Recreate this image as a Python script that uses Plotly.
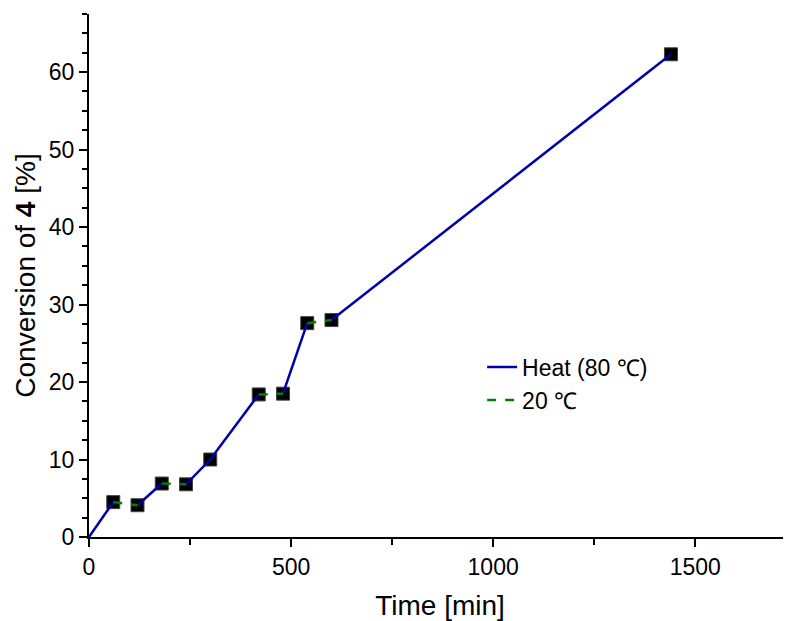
import plotly.graph_objects as go

time_min = [0, 60, 120, 180, 240, 300, 420, 480, 540, 600, 1440]
conversion = [0, 4.5, 4.1, 6.9, 6.8, 10.0, 18.4, 18.5, 27.6, 28.0, 62.3]
# phase of each interval between consecutive samples
phases = ["heat", "rt", "heat", "rt", "heat", "heat", "rt", "heat", "rt", "heat"]

x_ticks = [0, 500, 1000, 1500]
y_ticks = [0, 10, 20, 30, 40, 50, 60]


def segments(kind):
    xs, ys = [], []
    for i, p in enumerate(phases):
        if p != kind:
            continue
        if xs and xs[-1] == time_min[i]:
            xs.append(time_min[i + 1]); ys.append(conversion[i + 1])
        else:
            if xs:
                xs.append(None); ys.append(None)
            xs += [time_min[i], time_min[i + 1]]
            ys += [conversion[i], conversion[i + 1]]
    return xs, ys


fig = go.Figure()
fig.add_trace(go.Scatter(
    x=time_min[1:], y=conversion[1:], mode="markers",
    marker=dict(symbol="square", size=13, color="black",
                line=dict(color="#444", width=1)),
    showlegend=False, cliponaxis=False))

hx, hy = segments("heat")
fig.add_trace(go.Scatter(x=hx, y=hy, mode="lines", name="Heat (80 \u2103)",
                         line=dict(color="#0000A8", width=2.5), cliponaxis=False))
rx, ry = segments("rt")
fig.add_trace(go.Scatter(x=rx, y=ry, mode="lines", name="20 \u2103",
                         line=dict(color="#008000", width=2.5, dash="dash"),
                         cliponaxis=False))

font = dict(family="Liberation Sans, Arial, sans-serif", size=23, color="black")

# page body has an 8px default margin, so the figure is sized to fit the window
fig.update_layout(
    width=783, height=613,
    margin=dict(l=81, r=0, t=6, b=84),
    plot_bgcolor="white", paper_bgcolor="white",
    font=font,
    showlegend=True,
    legend=dict(x=0.56, y=0.366, xanchor="left", yanchor="top",
                bgcolor="rgba(0,0,0,0)", font=dict(size=23),
                tracegroupgap=0),
    xaxis=dict(range=[0, 1737], tickvals=x_ticks, showgrid=False, zeroline=False,
               automargin=False,
               showline=True, linecolor="black", linewidth=2,
               ticks="outside", ticklen=8, tickwidth=2, tickcolor="black",
               minor=dict(dtick=250, ticks="outside", ticklen=6, tickwidth=2,
                          tickcolor="black", tick0=0),
               title=dict(text="Time [min]", standoff=18),
               tickfont=dict(size=23)),
    yaxis=dict(range=[0, 67.5], tickvals=y_ticks, showgrid=False, zeroline=False,
               automargin=False,
               showline=True, linecolor="black", linewidth=2,
               ticks="outside", ticklen=8, tickwidth=2, tickcolor="black",
               minor=dict(dtick=2.5, ticks="outside", ticklen=5, tickwidth=2,
                          tickcolor="black", tick0=0),
               title=dict(text="Conversion of <b>4</b> [%]", standoff=5),
               tickfont=dict(size=23)),
)

fig.write_html("out.html")
